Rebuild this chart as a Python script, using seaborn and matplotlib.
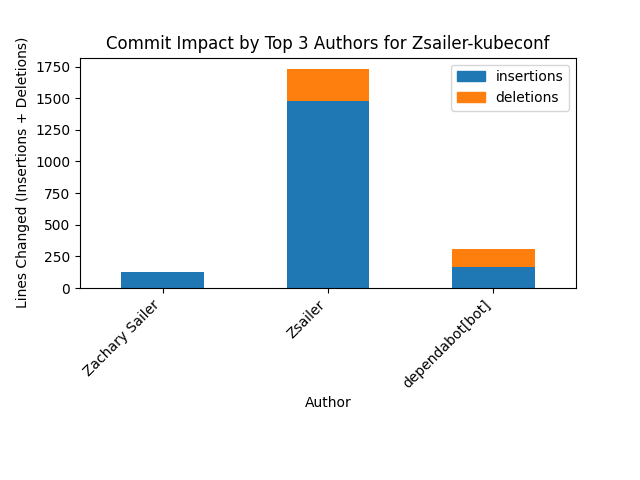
import matplotlib
matplotlib.use("Agg")
import matplotlib.pyplot as plt
import seaborn as sns
import pandas as pd
from matplotlib.patches import Patch

authors = ["Zachary Sailer", "Zsailer", "dependabot[bot]"]
insertions = [127, 1481, 166]
deletions = [2, 253, 143]

df = pd.DataFrame({"Author": authors, "insertions": insertions, "deletions": deletions})
df["total"] = df["insertions"] + df["deletions"]

fig, ax = plt.subplots(figsize=(6.4, 4.8))
sns.barplot(data=df, x="Author", y="total", color="#ff7f0e", width=0.5, saturation=1, ax=ax)
sns.barplot(data=df, x="Author", y="insertions", color="#1f77b4", width=0.5, saturation=1, ax=ax)

ax.set_title("Commit Impact by Top 3 Authors for Zsailer-kubeconf")
ax.set_xlabel("Author")
ax.set_ylabel("Lines Changed (Insertions + Deletions)")
ax.set_xlim(-0.5, len(authors) - 0.5)
plt.setp(ax.get_xticklabels(), rotation=45, ha="right")
ax.legend(handles=[Patch(color="#1f77b4", label="insertions"),
                   Patch(color="#ff7f0e", label="deletions")], loc="upper right")

fig.subplots_adjust(left=0.125, right=0.9, top=0.88, bottom=0.4)
plt.savefig("out.png", dpi=100)
